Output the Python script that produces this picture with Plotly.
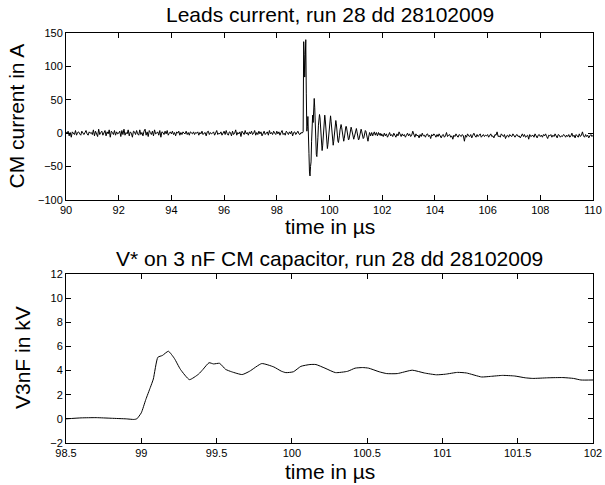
import numpy as np
import plotly.graph_objects as go

# ---------------- data ----------------
# Leads current (A): baseline noise before the discharge, sampled every 0.04 us from 90.00 us
pre_start, pre_dt = 90.0, 0.04
current_pre = [
    2, -1, 3, -4, 1, -6, 2, 0, -2, 4, -3, 1, 2, -1, -3, 3, 0, -2, 1, 4, -1, -3, 2, 0, 1,
    -2, 5, -4, 3, -1, -5, 6, -2, 1, 3, -3, 0, 4, -4, 2, -1, 5, -6, 3, 1, -2, 4, -3, 2, -1,
    0, 3, -5, 4, -2, 6, -3, 1, -1, 5, -4, 2, 0, -6, 3, 2, -2, 4, -1, -3, 5, -2, 1, -4, 3,
    6, -3, 2, -5, 4, 1, -2, 3, -4, 5, -1, 0, 2, -3, 4, -6, 2, 1, -2, 3, -1, 4, -3, 0, 2,
    -1, 3, -2, 1, -4, 2, 0, 3, -3, 1, -2, 2, 0, -1, 3, -2, 1, -3, 2, 0, -1, 2, -2, 1, 0,
    2, -3, 1, -1, 3, -2, 0, 1, -4, 2, 3, -2, 1, -1, 0, 2, -3, 1, 4, -2, 0, -1, 2, -3, 1,
    3, -2, 4, -1, -3, 2, 1, -4, 3, -2, 0, 5, -3, 1, -1, 2, -5, 3, 0, -2, 4, -1, 1, -3, 2,
    -1, 3, -2, 0, 4, -3, 1, -2, 3, -1, 2, -4, 1, 3, -2, 0, 2, -3, 4, -1, 1, -2, 3, 0, -2,
    3, -1, 2, -3, 1, 4, -2, 0, -3, 3, 1, -2, 2, -1, 3, -4, 1, 2, -2, 0, 3, -1, -2, 1, 0,
]
# discharge transient, sampled every 0.02 us from 99.00 us
spike_start, spike_dt = 99.0, 0.02
current_spike = [
    2, 137, 118, 84, 128, 140, 60, 3, 10, 25,
    8, -30, -58, -64, -50, -43, -12, 18, 27, 16,
    36, 52, 38, 6, -18, -32, -35, -26, -6, 12,
    24, 28, 23, 8, -10, -22, -26, -19, -3, 12,
    24, 27, 20, 5, -9, -19, -23, -17, -6, 6,
    16, 23, 26, 18, 4, -8, -16, -18, -12, -2,
    8, 16, 19, 14, 3, -6, -12, -14, -10, -3,
    5, 11, 13, 9, 1, -6, -11, -12, -8, -1,
    5, 10, 10, 5, -1, -7, -10, -9, -4, 2,
    7, 9, 6, 1, -4, -8, -9, -6, -2, 3,
    7, 7, 3, -2, -6, -10, -9, -4, 1, 5,
    6, 3, -1, -5, -8, -7, -3, 1, 4, 3,
    0, -5, -9, -12, -7, -2, 1, -1, -4, -2,
    1, -1, -4, -2, 0, 2, -1, -3, 0, 1,
    -2, -4, -1, 1, -2, -3, 0, -2, -4, -1,
]
# noise after the transient, sampled every 0.04 us from 102.00 us
post_start, post_dt = 102.0, 0.04
current_post = [
    -2, -5, 0, -4, -1, -6, -3, 1, -4, -2, -5, 0, -3, -6, -1, -4, 2, -3, -5, -1, -4, -2, -6, -3, 0,
    -4, -1, -5, -3, 3, -2, -6, -1, -4, -3, -7, -2, -5, 0, -4, -3, -6, -2, -1, -5, -3, -8, -2, -4, -1,
    -3, -6, -2, -5, -1, -4, -7, -3, -2, -6, -4, 1, -5, -3, -2, -6, -4, -9, -3, -5, -1, -4, -6, -2, -3,
    -5, -2, -4, -12, -3, -6, -1, -4, -5, -2, -7, -3, 0, -4, -6, -2, -5, -3, -1, -6, -4, -2, -5, -3, -4,
    -2, -6, -3, -1, -5, -4, -7, -2, -3, 2, -5, -4, -6, -1, -3, -5, -2, -8, -4, -3, -6, -2, -4, -5, -1,
    -4, -6, -3, -2, -5, -4, -7, -3, -1, -5, -2, -6, -4, -3, -9, -2, -5, -4, -3, -6, -1, -4, -7, -3, -2,
    -5, -3, -6, -2, -4, -1, -5, -8, -3, -4, -2, -6, -3, -5, -1, -4, -7, -2, -3, -6, -4, -5, -2, -3, -6,
    -3, -5, -2, -6, -4, 0, -5, -3, -7, -2, -4, -6, -1, -5, -3, 2, -4, -6, -2, -5, -3, -7, -4, -2, -5,
    -3,
]

# V* on 3 nF CM capacitor (kV)
volt_t = [98.50, 98.60, 98.70, 98.80, 98.90, 98.95, 98.97, 99.00, 99.03, 99.06, 99.08,
          99.11, 99.14, 99.18, 99.22, 99.26, 99.32, 99.38, 99.41, 99.45, 99.48, 99.52,
          99.56, 99.60, 99.67, 99.72, 99.80, 99.88, 99.93, 99.96, 100.01, 100.06, 100.12,
          100.16, 100.22, 100.29, 100.37, 100.42, 100.47, 100.51, 100.58, 100.63, 100.70,
          100.80, 100.88, 100.96, 101.02, 101.10, 101.16, 101.26, 101.32, 101.40, 101.48,
          101.55, 101.60, 101.70, 101.80, 101.87, 101.92, 102.00]
volt_kv = [0.00, 0.08, 0.10, 0.05, 0.00, -0.05, 0.00, 0.50, 1.60, 2.60, 3.30,
           5.10, 5.25, 5.60, 5.00, 4.10, 3.25, 3.70, 4.10, 4.65, 4.55, 4.60,
           4.10, 3.90, 3.67, 3.95, 4.58, 4.30, 3.95, 3.83, 3.90, 4.35, 4.50,
           4.50, 4.20, 3.83, 3.94, 4.20, 4.25, 4.20, 3.90, 3.75, 3.75,
           4.03, 3.80, 3.65, 3.70, 3.85, 3.80, 3.47, 3.52, 3.60, 3.55,
           3.40, 3.35, 3.40, 3.42, 3.35, 3.22, 3.22]

top_xticks = [90, 92, 94, 96, 98, 100, 102, 104, 106, 108, 110]
top_yticks = [-100, -50, 0, 50, 100, 150]
bot_xticks = [98.5, 99, 99.5, 100, 100.5, 101, 101.5, 102]
bot_xtext = ["98.5", "99", "99.5", "100", "100.5", "101", "101.5", "102"]
bot_yticks = [-2, 0, 2, 4, 6, 8, 10, 12]

title_top = "Leads current, run 28 dd 28102009"
title_bot = "V* on 3 nF CM capacitor, run 28 dd 28102009"
xlabel = "time in µs"
ylabel_top = "CM current in A"
ylabel_bot = "V3nF in kV"

# sample time grids
t_pre = pre_start + pre_dt * np.arange(len(current_pre))
t_spike = spike_start + spike_dt * np.arange(len(current_spike))
t_post = post_start + post_dt * np.arange(len(current_post))
t_cur = np.concatenate([t_pre, t_spike, t_post])
i_cur = np.concatenate([current_pre, current_spike, current_post])

# ---------------- figure ----------------
FONT = "Liberation Sans, Arial, Helvetica, sans-serif"
W, H = 605, 485
ML, MR, MT, MB = 66, 12, 33, 42
ph = H - MT - MB


def py(p):
    return (H - MB - p) / ph


def px(p):
    return (p - ML) / (W - ML - MR)


fig = go.Figure()
fig.add_trace(go.Scatter(x=t_cur, y=i_cur, mode="lines",
                         line=dict(color="black", width=1), xaxis="x", yaxis="y",
                         showlegend=False, hoverinfo="skip"))
fig.add_trace(go.Scatter(x=volt_t, y=volt_kv, mode="lines",
                         line=dict(color="black", width=1, shape="spline", smoothing=0.5),
                         xaxis="x2", yaxis="y2", showlegend=False, hoverinfo="skip"))

axis_common = dict(showline=True, linecolor="black", linewidth=1, mirror="ticks",
                   ticks="inside", ticklen=5, tickwidth=1, tickcolor="black",
                   showgrid=False, zeroline=False,
                   tickfont=dict(family=FONT, size=11, color="black"))

fig.update_layout(
    width=W, height=H,
    margin=dict(l=ML, r=MR, t=MT, b=MB, autoexpand=False),
    paper_bgcolor="white", plot_bgcolor="white",
    xaxis=dict(domain=[0, 1], range=[90, 110], tickvals=top_xticks, anchor="y", **axis_common),
    yaxis=dict(domain=[py(200), 1], range=[-100, 150], tickvals=top_yticks, anchor="x", **axis_common),
    xaxis2=dict(domain=[0, 1], range=[98.5, 102], tickvals=bot_xticks, ticktext=bot_xtext,
                anchor="y2", **axis_common),
    yaxis2=dict(domain=[0, py(274)], range=[-2, 12], tickvals=bot_yticks, anchor="x2", **axis_common),
)

ann = [
    dict(text=title_top, x=0.5, y=py(14.5), size=21),
    dict(text=title_bot, x=0.5, y=py(258), size=21),
    dict(text=xlabel, x=0.5, y=py(226), size=21),
    dict(text=xlabel, x=0.5, y=py(471), size=21),
]
for a in ann:
    fig.add_annotation(text=a["text"], x=a["x"], y=a["y"], xref="paper", yref="paper",
                       xanchor="center", yanchor="middle", showarrow=False,
                       font=dict(family=FONT, size=a["size"], color="black"))
for txt, yy, xx in [(ylabel_top, py(116.5), px(16)), (ylabel_bot, py(358), px(22))]:
    fig.add_annotation(text=txt, x=xx, y=yy, xref="paper", yref="paper", textangle=-90,
                       xanchor="center", yanchor="middle", showarrow=False,
                       font=dict(family=FONT, size=21, color="black"))

fig.write_html("out.html")
